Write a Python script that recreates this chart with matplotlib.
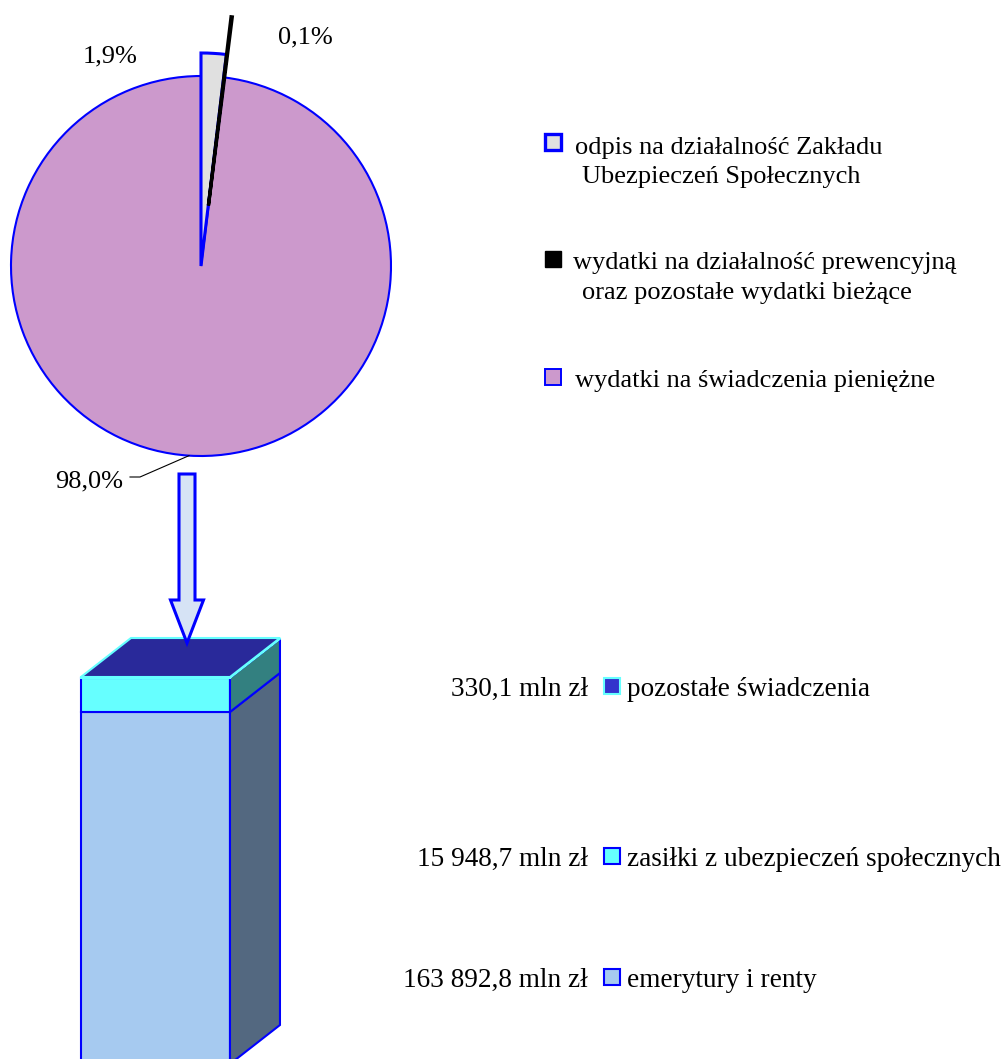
import matplotlib
matplotlib.use('Agg')
from matplotlib import pyplot as plt
from matplotlib.patches import Polygon, Rectangle, FancyArrow
import numpy as np

plt.rcParams['font.family'] = ['Liberation Serif', 'DejaVu Serif']

# dane - wykres kołowy
pie_names = ['odpis na działalność Zakładu\nUbezpieczeń Społecznych',
             'wydatki na działalność prewencyjną\noraz pozostałe wydatki bieżące',
             'wydatki na świadczenia pieniężne']
pie_shares = [1.9, 0.1, 98.0]
pie_texts = ['1,9%', '0,1%', '98,0%']
pie_colors = ['#E0E0E0', '#000000', '#CC99CC']
pie_edges = ['#0000FF', '#000000', '#0000FF']

# dane - słupek
bar_names = ['emerytury i renty', 'zasiłki z ubezpieczeń społecznych', 'pozostałe świadczenia']
bar_values = [163892.8, 15948.7, 330.1]
bar_texts = ['163 892,8 mln zł', '15 948,7 mln zł', '330,1 mln zł']
bar_front = ['#A6CAF0', '#66FFFF', '#3333CC']
bar_side = ['#536880', '#338080', '#1F1F80']
bar_top = '#29299A'
bar_edges = ['#0000FF', '#0000FF', '#66FFFF']

W, H = 1008, 1059
FS = 19
fig = plt.figure(figsize=(W / 100, H / 100), dpi=100)

# słupek 3D
total = sum(bar_values)
bx = fig.add_axes([60 / W, (H - 1064) / H, 240 / W, (1064 - 600) / H])
bx.set_xlim(-0.641, 0.970)
bx.set_ylim(0, total * (1064 - 600) / 387)
bx.axis('off')
dx = 50 / 149
dy = total * 39 / 387
bottom = 0
for v, fc, sc, ec in zip(bar_values, bar_front, bar_side, bar_edges):
    bx.bar(0, v, width=1, bottom=bottom, color=fc, edgecolor=ec, linewidth=1.5)
    bx.add_patch(Polygon([(0.5, bottom), (0.5 + dx, bottom + dy),
                          (0.5 + dx, bottom + v + dy), (0.5, bottom + v)],
                         closed=True, fc=sc, ec=ec, lw=1.5))
    bottom += v
bx.add_patch(Polygon([(-0.5, bottom), (-0.5 + dx, bottom + dy),
                      (0.5 + dx, bottom + dy), (0.5, bottom)],
                     closed=True, fc=bar_top, ec=bar_edges[-1], lw=1.5))

# warstwa w pikselach (koło, strzałka, opisy)
ax = fig.add_axes([0, 0, 1, 1])
cx, cy, r = 201, H - 266, 190
wedges, _ = ax.pie(pie_shares, colors=pie_colors, startangle=90, counterclock=False,
                   center=(cx, cy), radius=r)
for w, ec in zip(wedges, pie_edges):
    w.set_edgecolor(ec)
wedges[0].set_linewidth(2.2)
wedges[0].set_radius(213)
wedges[0].set_zorder(3)
wedges[1].set_linewidth(2.4)
wedges[1].set_zorder(4)
tm = np.deg2rad((wedges[1].theta1 + wedges[1].theta2) / 2)
wedges[1].set_center((cx + 61 * np.cos(tm), cy + 61 * np.sin(tm)))
wedges[2].set_linewidth(1.5)

ax.set_xlim(0, W)
ax.set_ylim(0, H)
ax.set_aspect('auto')
ax.axis('off')

ax.text(83, H - 62, pie_texts[0], fontsize=FS, va='baseline')
ax.text(278, H - 43, pie_texts[1], fontsize=FS, va='baseline')
ax.text(55, H - 487, pie_texts[2], fontsize=FS, va='baseline')
tm2 = np.deg2rad((wedges[2].theta1 + wedges[2].theta2) / 2)
ax.plot([130, 140, cx + r * np.cos(tm2)], [H - 477, H - 477, cy + r * np.sin(tm2)],
        color='black', lw=0.8)

# strzałka
ax.add_patch(FancyArrow(187, H - 474, 0, -(643 - 474), width=16, head_width=33,
                        head_length=43, length_includes_head=True,
                        fc='#D6E3F5', ec='#0000FF', lw=2.2, zorder=5))

# legenda koła
mk_y = [142, 259, 377]
txt_y = [154, 269, 387]
mk_lw = [2.4, 1.0, 1.4]
for i, (name, fc, ec) in enumerate(zip(pie_names, pie_colors, pie_edges)):
    ax.add_patch(Rectangle((545, H - mk_y[i] - 8), 16, 16, fc=fc, ec=ec, lw=mk_lw[i]))
    lines = name.split('\n')
    ax.text(575 if i != 1 else 573, H - txt_y[i], lines[0], fontsize=FS, va='baseline')
    if len(lines) > 1:
        ax.text(582, H - txt_y[i] - 29.5, lines[1], fontsize=FS, va='baseline')

# legenda słupka
bleg_y = {2: 686, 1: 856, 0: 977}
for i in range(3):
    y = bleg_y[i]
    ax.add_patch(Rectangle((604, H - y - 8), 16, 16, fc=bar_front[i], ec=bar_edges[i], lw=1.5))
    ax.text(588, H - y - 10, bar_texts[i], fontsize=19.6, va='baseline', ha='right')
    ax.text(627, H - y - 10, bar_names[i], fontsize=19.6, va='baseline')

fig.savefig('out.png', dpi=100)
